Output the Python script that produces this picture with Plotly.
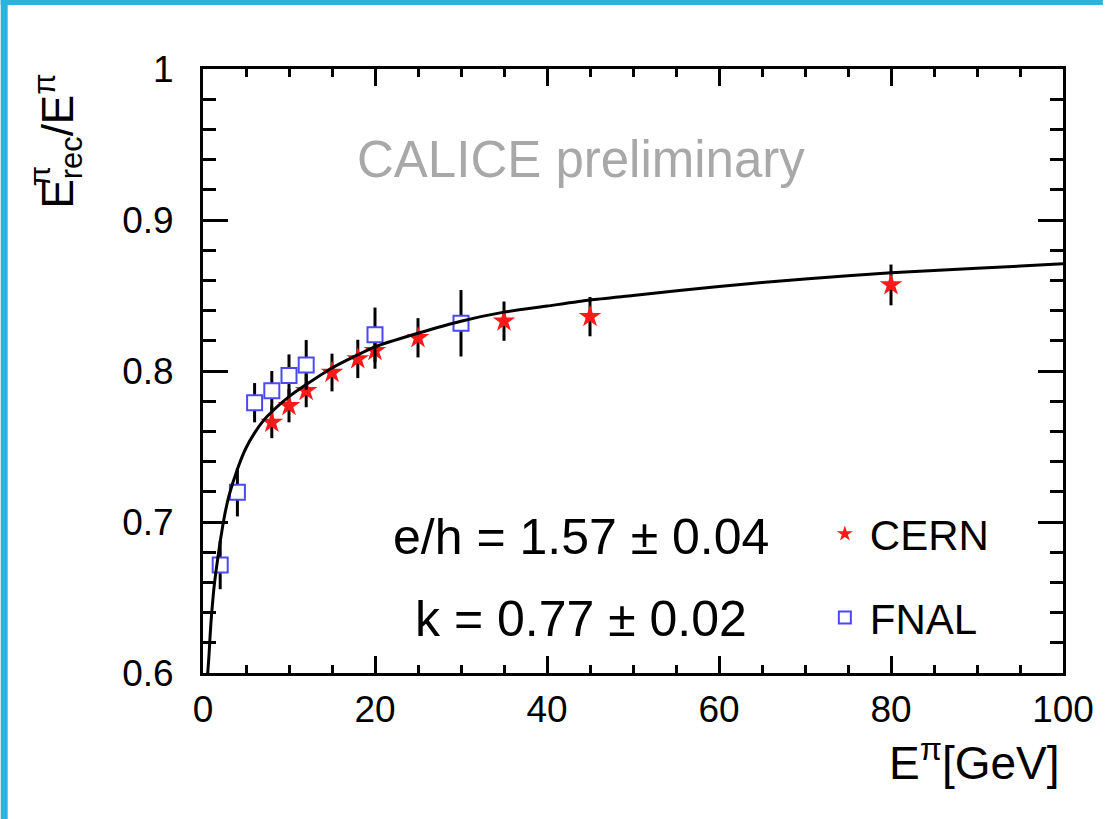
import plotly.graph_objects as go

# ---- data ----
cern_E = [8, 10, 12, 15, 18, 20, 25, 35, 45, 80]
cern_R = [0.766, 0.777, 0.787, 0.799, 0.808, 0.8135, 0.822, 0.833, 0.836, 0.857]
cern_err = [0.0105, 0.011, 0.011, 0.0125, 0.0127, 0.012, 0.013, 0.013, 0.013, 0.0135]

fnal_E = [2, 4, 6, 8, 10, 12, 20, 30]
fnal_R = [0.6715, 0.7197, 0.779, 0.787, 0.797, 0.804, 0.824, 0.8316]
fnal_err = [0.016, 0.016, 0.013, 0.013, 0.014, 0.0165, 0.018, 0.022]

# fitted curve, values
fit_E = [0.55, 0.7, 0.85, 1, 1.25, 1.5, 2, 2.5, 3, 4, 5, 6, 7, 8, 10, 12, 15,
         20, 25, 30, 35, 40, 45, 50, 60, 70, 80, 90, 100]
fit_R = [0.600, 0.612, 0.627, 0.639, 0.655, 0.667, 0.687, 0.704, 0.717, 0.735,
         0.749, 0.759, 0.767, 0.773, 0.783, 0.791, 0.802, 0.816, 0.825, 0.833,
         0.839, 0.843, 0.847, 0.850, 0.856, 0.861, 0.865, 0.868, 0.871]

x_ticks = [0, 20, 40, 60, 80, 100]
y_ticks = [0.6, 0.7, 0.8, 0.9, 1.0]
y_tick_text = ["0.6", "0.7", "0.8", "0.9", "1"]

FONT = "Liberation Sans, Arial, Helvetica, sans-serif"
W, H = 1106, 819
L, R, T, B = 203, 40, 69, 146
PW, PH = W - L - R, H - T - B

fig = go.Figure()

fig.add_trace(go.Scatter(
    x=cern_E, y=cern_R, mode="markers", name="CERN", legendgroup="a",
    marker=dict(symbol="star", size=17, color="#ff1a1a", line=dict(width=0)),
    error_y=dict(type="data", array=cern_err, color="black", thickness=3, width=0),
))
fig.add_trace(go.Scatter(
    x=fnal_E, y=fnal_R, mode="markers", name="FNAL", legendgroup="b",
    marker=dict(symbol="square", size=15, color="white",
                line=dict(width=2, color="#4a4af0")),
    error_y=dict(type="data", array=fnal_err, color="black", thickness=3, width=0),
))
fig.add_trace(go.Scatter(
    x=fit_E, y=fit_R, mode="lines", showlegend=False,
    line=dict(color="black", width=3, shape="spline", smoothing=0.6),
))

axis_common = dict(
    showline=True, linecolor="black", linewidth=3, mirror="ticks",
    ticks="inside", tickwidth=2.5, tickcolor="black",
    showgrid=False, zeroline=False,
    tickfont=dict(family=FONT, size=37, color="black"),
)

fig.update_xaxes(
    range=[0, 100], tickvals=x_ticks, ticklen=17, ticklabelstandoff=2,
    minor=dict(dtick=5, ticklen=8, tickwidth=2.5, ticks="inside", showgrid=False),
    **axis_common,
)
fig.update_yaxes(
    range=[0.6, 1.0], tickvals=y_ticks, ticktext=y_tick_text, ticklen=25,
    ticklabelstandoff=19,
    minor=dict(dtick=0.02, ticklen=13, tickwidth=2.5, ticks="inside", showgrid=False),
    **axis_common,
)

def px2paper_x(px):
    return (px - L) / PW

def px2paper_y(py):
    return (H - B - py) / PH

annos = [
    dict(text="CALICE preliminary", x=43.9, y=0.940, xref="x", yref="y",
         font=dict(family=FONT, size=51, color="#a8a8a8")),
    dict(text="e/h = 1.57 ± 0.04", x=43.9, y=0.690, xref="x", yref="y",
         font=dict(family=FONT, size=50, color="black")),
    dict(text="k = 0.77 ± 0.02", x=43.9, y=0.636, xref="x", yref="y",
         font=dict(family=FONT, size=50, color="black")),
    # x axis title
    dict(text="E<sup>π</sup>[GeV]", x=px2paper_x(1065), y=px2paper_y(760),
         xref="paper", yref="paper", xanchor="right", yanchor="middle",
         font=dict(family=FONT, size=46, color="black")),
    # y axis title
    dict(text="E<sub>rec</sub>/E<sup>π</sup>", x=px2paper_x(57), y=px2paper_y(141),
         xref="paper", yref="paper", xanchor="center", yanchor="middle",
         textangle=-90, font=dict(family=FONT, size=44, color="black")),
    dict(text="π", x=px2paper_x(39), y=px2paper_y(176),
         xref="paper", yref="paper", xanchor="center", yanchor="middle",
         textangle=-90, font=dict(family=FONT, size=30, color="black")),
]
for a in annos:
    a.setdefault("showarrow", False)
    fig.add_annotation(**a)

# cyan frame of the slide
shapes = [
    dict(type="rect", xref="paper", yref="paper", x0=px2paper_x(0), x1=px2paper_x(7),
         y0=px2paper_y(H), y1=px2paper_y(0), fillcolor="#2bb3d9", line=dict(width=0),
         layer="below"),
    dict(type="rect", xref="paper", yref="paper", x0=px2paper_x(0), x1=px2paper_x(W),
         y0=px2paper_y(5), y1=px2paper_y(0), fillcolor="#2bb3d9", line=dict(width=0),
         layer="below"),
]
fig.update_layout(shapes=shapes)

fig.update_layout(
    width=W, height=H,
    margin=dict(l=L, r=R, t=T, b=B),
    paper_bgcolor="white", plot_bgcolor="white",
    font=dict(family=FONT, color="black"),
    showlegend=True,
    legend=dict(
        x=px2paper_x(822), y=px2paper_y(500), xanchor="left", yanchor="top",
        bgcolor="rgba(0,0,0,0)", font=dict(family=FONT, size=42, color="black"),
        itemsizing="constant", tracegroupgap=26, itemwidth=40,
    ),
)

fig.write_html("out.html")
